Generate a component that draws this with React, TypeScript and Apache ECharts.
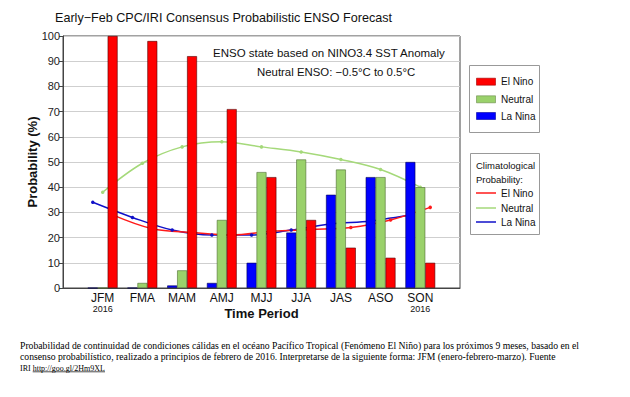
import React, { useEffect, useRef } from "react";
import * as echarts from "echarts";

const periods = ["JFM", "FMA", "MAM", "AMJ", "MJJ", "JJA", "JAS", "ASO", "SON"];
const yearNotes = ["2016", "", "", "", "", "", "", "", "2016"];
const categoryNames = ["El Nino", "Neutral", "La Nina"];

const elNino = [100, 98, 92, 71, 44, 27, 16, 12, 10];
const neutral = [0, 2, 7, 27, 46, 51, 47, 44, 40];
const laNina = [0, 0, 1, 2, 10, 22, 37, 44, 50];

const climElNino = [29, 23.5, 22, 21, 22.5, 23.2, 24, 27, 32];
const climNeutral = [38, 49.5, 56, 58, 56, 54, 51, 47, 40];
const climLaNina = [34, 28, 23, 21, 21, 23, 25.4, 26.6, 29];

const titleText = "Early\u2212Feb CPC/IRI Consensus Probabilistic ENSO Forecast";
const note1 = "ENSO state based on NINO3.4 SST Anomaly";
const note2 = "Neutral ENSO: \u22120.5\u00B0C to 0.5\u00B0C";
const captionLines = [
  "Probabilidad de continuidad de condiciones cálidas en el océano Pacífico Tropical (Fenómeno El Niño) para los próximos 9 meses, basado en el",
  "consenso probabilístico, realizado a principios de febrero de 2016. Interpretarse de la siguiente forma: JFM (enero-febrero-marzo). Fuente",
];
const captionLast = "IRI ";
const captionLink = "http://goo.gl/2Hm9XL";

const RED = "#ff0000";
const GREEN = "#9ad16b";
const BLUE = "#0000ff";
const LRED = "#ff1a1a";
const LGREEN = "#a5d97a";
const LBLUE = "#1010c8";

const SANS = "Liberation Sans, Arial, Helvetica, sans-serif";
const SERIF = "Liberation Serif, Times New Roman, serif";

const SHIFT = 0.25; // bar width as a fraction of the category step

export default function App() {
  const ref = useRef<HTMLDivElement>(null);
  useEffect(() => {
    if (!ref.current) return;
    const chart = echarts.init(ref.current, undefined, { renderer: "svg" });
    const pad = (arr: number[]) => ["-", ...arr, "-"];
    const barColors = [BLUE, GREEN, RED];
    const barBorders = ["#000050", "#4d6b30", "#500000"];
    const barData = [laNina, neutral, elNino];
    const barNames = ["La Nina", "Neutral", "El Nino"];
    const lineSets = [
      { name: "Clim La Nina", data: climLaNina, off: -SHIFT, color: LBLUE },
      { name: "Clim Neutral", data: climNeutral, off: 0, color: LGREEN },
      { name: "Clim El Nino", data: climElNino, off: SHIFT, color: LRED },
    ];
    const legendColors = [RED, GREEN, BLUE];
    const legendBorders = ["#a00000", "#6a8a4a", "#0000a0"];
    const legendLineColors = [LRED, LGREEN, LBLUE];

    const graphic: any[] = [
      { type: "text", x: 213, y: 53, style: { text: note1, fontSize: 11.5, fontFamily: SANS, fill: "#111", verticalAlign: "middle" } },
      { type: "text", x: 257, y: 72, style: { text: note2, fontSize: 11.4, fontFamily: SANS, fill: "#111", verticalAlign: "middle" } },
      { type: "rect", shape: { x: 469.5, y: 65.5, width: 70, height: 67 }, style: { fill: "#fff", stroke: "#999", lineWidth: 1 } },
      { type: "rect", shape: { x: 470.5, y: 153.5, width: 69, height: 81 }, style: { fill: "#fff", stroke: "#999", lineWidth: 1 } },
      { type: "text", x: 476, y: 165, style: { text: "Climatological", fontSize: 9.5, fontFamily: SANS, fill: "#111", verticalAlign: "middle" } },
      { type: "text", x: 476, y: 179, style: { text: "Probability:", fontSize: 9.5, fontFamily: SANS, fill: "#111", verticalAlign: "middle" } },
    ];
    const leg1Y = [81.7, 99.3, 116];
    const leg2Y = [193, 208, 222];
    categoryNames.forEach((n, i) => {
      graphic.push({ type: "rect", shape: { x: 476.5, y: leg1Y[i] - 3.5, width: 19, height: 7 }, style: { fill: legendColors[i], stroke: legendBorders[i], lineWidth: 0.6 } });
      graphic.push({ type: "text", x: 501, y: leg1Y[i], style: { text: n, fontSize: 10, fontFamily: SANS, fill: "#111", verticalAlign: "middle" } });
      graphic.push({ type: "line", shape: { x1: 476, y1: leg2Y[i], x2: 496, y2: leg2Y[i] }, style: { stroke: legendLineColors[i], lineWidth: 1.5 } });
      graphic.push({ type: "text", x: 501, y: leg2Y[i], style: { text: n, fontSize: 10, fontFamily: SANS, fill: "#111", verticalAlign: "middle" } });
    });
    const capY = [345, 356.5, 368];
    captionLines.forEach((t, i) => {
      graphic.push({ type: "text", x: 20, y: capY[i], style: { text: t, fontSize: 9.7, fontFamily: SERIF, fill: "#000", verticalAlign: "middle" } });
    });
    graphic.push({ type: "text", x: 20, y: capY[2], style: { text: captionLast + captionLink, fontSize: 8, fontFamily: SERIF, fill: "#000", verticalAlign: "middle" } });
    graphic.push({ type: "line", shape: { x1: 32.7, y1: 371.8, x2: 105, y2: 371.8 }, style: { stroke: "#000", lineWidth: 0.7 } });

    const option: any = {
      animation: false,
      backgroundColor: "#fff",
      textStyle: { fontFamily: SANS },
      title: {
        text: titleText,
        left: 55,
        top: 11,
        padding: 0,
        textStyle: { fontSize: 12.6, fontWeight: "normal", fontFamily: SANS, color: "#111" },
      },
      grid: {
        left: 63,
        right: 170,
        top: 36,
        bottom: 109,
        show: true,
        borderColor: "#444",
        borderWidth: 1,
        backgroundColor: "#fff",
        containLabel: false,
      },
      xAxis: [
        {
          type: "category",
          data: ["", ...periods, ""],
          boundaryGap: false,
          axisTick: { show: false },
          axisLine: { lineStyle: { color: "#444", width: 1 } },
          splitLine: { show: false },
          axisLabel: {
            interval: 0,
            fontSize: 12,
            color: "#111",
            margin: 4.5,
            lineHeight: 11,
            formatter: (v: string, idx: number) => {
              const note = yearNotes[idx - 1];
              return note ? `${v}\n{y|${note}}` : v;
            },
            rich: { y: { fontSize: 9, lineHeight: 10, color: "#111" } },
          },
          name: "Time Period",
          nameLocation: "middle",
          nameGap: 19,
          nameMoveOverlap: false,
          nameTextStyle: { fontSize: 13, fontWeight: "bold", color: "#111" },
        },
        { type: "value", min: -1, max: 9, show: false, gridIndex: 0 },
      ],
      yAxis: {
        type: "value",
        min: 0,
        max: 100,
        interval: 10,
        axisLine: { show: true, onZero: false, lineStyle: { color: "#444", width: 1 } },
        axisTick: { show: true, length: 4, lineStyle: { color: "#444" } },
        axisLabel: { fontSize: 11, color: "#222", margin: 3 },
        splitLine: { lineStyle: { color: "#cfcfcf", width: 1 } },
        name: "Probability (%)",
        nameLocation: "middle",
        nameGap: 24,
        nameMoveOverlap: false,
        nameTextStyle: { fontSize: 13, fontWeight: "bold", color: "#111" },
      },
      series: [
        ...lineSets.map((s) => ({
          type: "line",
          name: s.name,
          xAxisIndex: 1,
          z: 1,
          data: s.data.map((v, i) => [i + s.off, v]),
          smooth: 0.35,
          symbol: "circle",
          symbolSize: 3.5,
          lineStyle: { color: s.color, width: 1.5 },
          itemStyle: { color: s.color },
        })),
        ...barData.map((d, k) => ({
          type: "bar",
          name: barNames[k],
          xAxisIndex: 0,
          z: 3,
          barWidth: "25%",
          barGap: "0%",
          data: pad(d),
          itemStyle: { color: barColors[k], borderColor: barBorders[k], borderWidth: 0.6 },
        })),
      ],
      graphic,
    };
    chart.setOption(option);
    return () => chart.dispose();
  }, []);
  return <div ref={ref} style={{ position: "fixed", left: 0, top: 0, width: 630, height: 397 }} />;
}
